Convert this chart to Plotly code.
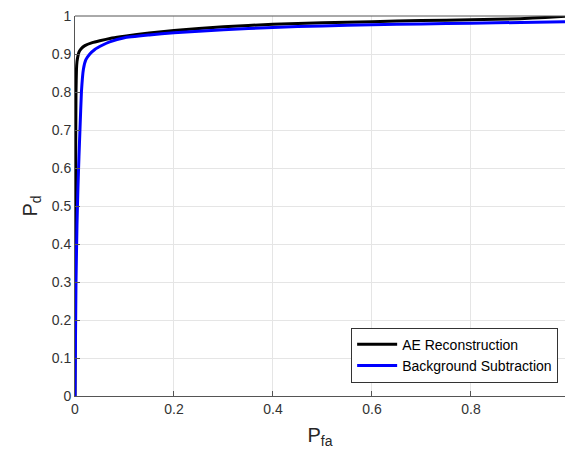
import plotly.graph_objects as go

ae_pfa = [0, 0.0005, 0.001, 0.002, 0.003, 0.004, 0.006, 0.008, 0.012, 0.02, 0.035, 0.05, 0.075, 0.1, 0.15, 0.2, 0.3, 0.4, 0.5, 0.6, 0.7, 0.8, 0.9, 0.95, 1.0]
ae_pd = [0, 0.3, 0.55, 0.8, 0.86, 0.88, 0.895, 0.905, 0.913, 0.922, 0.93, 0.935, 0.942, 0.947, 0.955, 0.962, 0.972, 0.978, 0.982, 0.985, 0.988, 0.99, 0.993, 0.996, 1.0]

bs_pfa = [0, 0.001, 0.002, 0.004, 0.006, 0.008, 0.01, 0.013, 0.017, 0.022, 0.03, 0.04, 0.055, 0.07, 0.1, 0.15, 0.2, 0.3, 0.4, 0.5, 0.6, 0.7, 0.8, 0.9, 1.0]
bs_pd = [0, 0.15, 0.3, 0.45, 0.55, 0.63, 0.7, 0.8, 0.86, 0.885, 0.9, 0.912, 0.923, 0.932, 0.943, 0.95, 0.956, 0.964, 0.97, 0.974, 0.977, 0.979, 0.981, 0.983, 0.985]

xticks = [0, 0.2, 0.4, 0.6, 0.8]
yticks = [0, 0.1, 0.2, 0.3, 0.4, 0.5, 0.6, 0.7, 0.8, 0.9, 1]

fig = go.Figure()
fig.add_trace(go.Scatter(x=ae_pfa, y=ae_pd, mode="lines", name="AE Reconstruction",
                         line=dict(color="black", width=3, shape="spline", smoothing=0.3)))
fig.add_trace(go.Scatter(x=bs_pfa, y=bs_pd, mode="lines", name="Background Subtraction",
                         line=dict(color="#0000ff", width=3, shape="spline", smoothing=0.3)))

axis_common = dict(showgrid=True, gridcolor="#e5e5e5", gridwidth=1, zeroline=False,
                   showline=True, linecolor="#555555", linewidth=1, ticks="inside",
                   ticklen=5, tickcolor="#555555",
                   tickfont=dict(family="Liberation Sans, Arial", size=14, color="#333333"))

fig.update_xaxes(range=[0, 0.99], tickvals=xticks, ticktext=[str(v) for v in xticks],
                 title=dict(text="P<sub>fa</sub>", font=dict(family="Liberation Sans, Arial", size=20, color="#262626"), standoff=12),
                 **axis_common)
fig.update_yaxes(range=[0, 1], tickvals=yticks, ticktext=[str(v) for v in yticks],
                 title=dict(text="P<sub>d</sub>", font=dict(family="Liberation Sans, Arial", size=20, color="#262626"), standoff=8),
                 **axis_common)

fig.add_shape(type="line", xref="paper", yref="paper", x0=0, x1=1, y0=1, y1=1,
              line=dict(color="#555555", width=1))

fig.update_layout(
    width=565, height=455,
    margin=dict(l=75, r=0, t=16, b=59),
    plot_bgcolor="white", paper_bgcolor="white",
    legend=dict(x=0.986, y=0.035, xanchor="right", yanchor="bottom",
                bgcolor="white", bordercolor="#333333", borderwidth=1,
                font=dict(family="Liberation Sans, Arial", size=14, color="black"),
                tracegroupgap=0, itemwidth=40),
    showlegend=True,
)

fig.write_html("out.html")
